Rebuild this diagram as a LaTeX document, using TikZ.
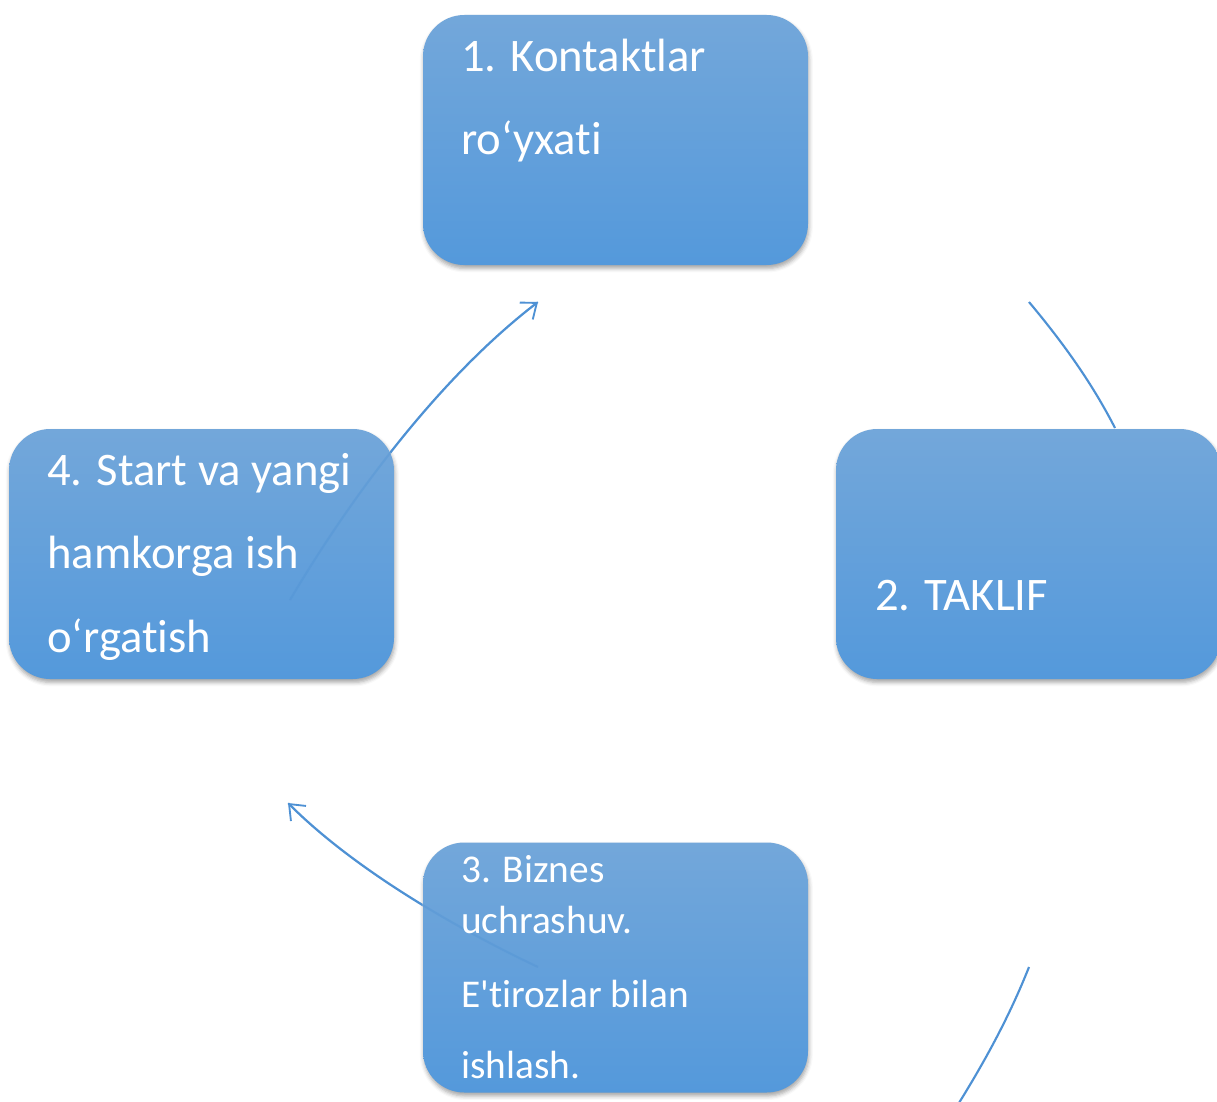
\documentclass[tikz,border=0pt]{standalone}
\usepackage{fontspec}
\newfontfamily\carl{Carlito}[Ligatures=NoCommon]
\usetikzlibrary{arrows.meta,shadows.blur}
\definecolor{boxtop}{RGB}{115,167,218}
\definecolor{boxbot}{RGB}{84,153,219}
\definecolor{arcblue}{RGB}{78,145,212}
\tikzset{
  box/.style={rectangle, rounded corners=31pt, minimum width=288.75pt, minimum height=187.5pt,
    inner sep=0pt, top color=boxtop, bottom color=boxbot,
    blur shadow={shadow xshift=0.6pt, shadow yshift=-2.6pt, shadow blur radius=3pt, shadow opacity=35}},
  lbl/.style={anchor=base west, inner sep=0pt, text=white, font=\carl\fontsize{35}{42}\selectfont},
  lblsmall/.style={lbl, font=\carl\fontsize{29.5}{36}\selectfont},
  arcline/.style={draw=arcblue, line width=1.6pt},
  tipped/.style={-{Straight Barb[length=10pt,width=16pt,line width=1.4pt]}}
}
\begin{document}
\begin{tikzpicture}[x=0.75pt,y=-0.75pt]
\useasboundingbox (0,0) rectangle (1217,1102);
% boxes
\node[box] (b1) at (615.5,140) {};
\node[box] (b2) at (1028.5,554) {};
\node[box] (b3) at (615.5,967.5) {};
\node[box] (b4) at (201.5,554) {};
% connector ends
\coordinate (s41) at (290,600);
\coordinate (e41) at (538,302);
\coordinate (s12) at (1029,302);
\coordinate (e12) at (1115,428);
\coordinate (s23) at (1029,967);
\coordinate (e23) at (952,1114);
\coordinate (s34) at (538,967);
\coordinate (e34) at (288,803);
% faint parts of connectors seen through the boxes
\begin{scope}[opacity=0.35]
  \draw[arcline] (s41) .. controls (340,515) and (430,385) .. (e41);
  \draw[arcline] (s34) .. controls (470,935) and (360,875) .. (e34);
\end{scope}
% connectors outside the boxes
\begin{scope}[even odd rule, rounded corners=31pt]
  \clip (-20,-20) rectangle (1240,1130)
    (b1.north west) rectangle (b1.south east)
    (b2.north west) rectangle (b2.south east)
    (b3.north west) rectangle (b3.south east)
    (b4.north west) rectangle (b4.south east);
  \draw[arcline,tipped,sharp corners] (s41) .. controls (340,515) and (430,385) .. (e41);
  \draw[arcline,sharp corners] (s12) .. controls (1065,345) and (1093,385) .. (e12);
  \draw[arcline,sharp corners] (s23) .. controls (1010,1015) and (985,1062) .. (e23);
  \draw[arcline,tipped,sharp corners] (s34) .. controls (470,935) and (360,875) .. (e34);
\end{scope}
% texts
\node[lbl] (t1a) at (461,72) {1. Kontaktlar};
\node[lbl] (t1b) at (461,155) {ro‘yxati};
\node[lbl] (t2a) at (875,610) {2. TAKLIF};
\node[lblsmall] (t3a) at (461,882) {3. Biznes};
\node[lblsmall] (t3b) at (461,933) {uchrashuv.};
\node[lblsmall] (t3c) at (461,1007) {E'tirozlar bilan};
\node[lblsmall] (t3d) at (461,1078) {ishlash.};
\node[lbl] (t4a) at (47,485) {4. Start va yangi};
\node[lbl] (t4b) at (47,568) {hamkorga ish};
\node[lbl] (t4c) at (47,652) {o‘rgatish};
\end{tikzpicture}
\end{document}
